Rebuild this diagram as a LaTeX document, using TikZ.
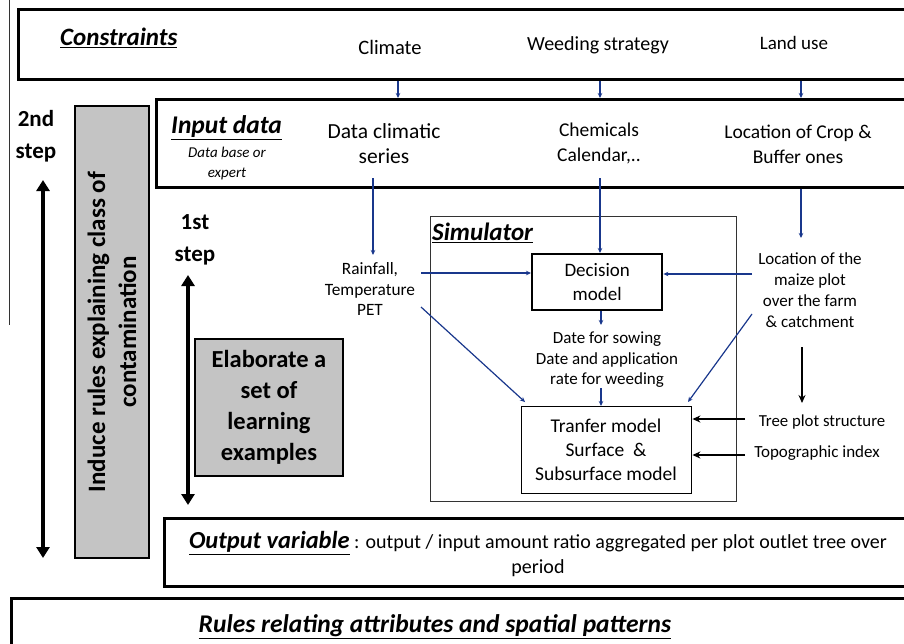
\documentclass[tikz,border=0pt]{standalone}
\usepackage{fontspec}
\setmainfont{Carlito}
\usetikzlibrary{arrows.meta}
\definecolor{navy}{RGB}{25,55,140}
\definecolor{boxgray}{RGB}{196,196,196}
\newcommand{\fs}[2]{\fontsize{#1}{#2}\selectfont}
\newcommand{\ttl}[1]{\underline{\textbf{\textit{#1}}}}
\begin{document}
\begin{tikzpicture}[x=1pt,y=-1pt,
  bigframe/.style={draw, line width=2.6pt, anchor=north west, inner sep=0pt},
  grayframe/.style={draw, fill=boxgray, line width=2pt, anchor=north west, inner sep=0pt},
  simframe/.style={draw=black!80, line width=1.1pt, anchor=north west, inner sep=0pt},
  modframe/.style={draw, anchor=north west, inner sep=0pt},
  lbl/.style={align=center, inner sep=0pt},
  barrow/.style={draw=navy, line width=1.2pt, -{Stealth[length=5pt,width=4.5pt]}},
  karrow/.style={draw, line width=1.6pt, -{Stealth[length=8pt,width=7pt]}},
  steparrow/.style={draw, line width=3.6pt, {Triangle[length=11pt,width=13pt]}-{Triangle[length=11pt,width=13pt]}},
  ]
\useasboundingbox (0,0) rectangle (904,643);
\clip (0,0) rectangle (904,643);

% thin left rule
\coordinate (lt) at (9,0);
\coordinate (lb) at (9,325);
\draw[line width=0.8pt, black!80] (lt) -- (lb);

% frames
\node[bigframe, minimum width=898pt, minimum height=70pt] (cons) at (17,8) {};
\node[bigframe, minimum width=760pt, minimum height=88pt] (inp) at (155,98) {};
\node[bigframe, minimum width=752pt, minimum height=68pt] (out) at (163,517) {};
\node[bigframe, minimum width=905pt, minimum height=70pt] (rules) at (10,597) {};
\node[grayframe, minimum width=74pt, minimum height=452pt] (induce) at (74,105) {};
\node[grayframe, minimum width=148pt, minimum height=137pt] (elab) at (194,338) {};
\node[simframe, minimum width=306pt, minimum height=285pt] (sim) at (430,216) {};
\node[modframe, line width=2.4pt, minimum width=130pt, minimum height=56pt] (dec) at (531,253) {};
\node[modframe, line width=1.4pt, minimum width=170pt, minimum height=87pt] (tra) at (521,406) {};

% constraints texts
\node[lbl, anchor=west, font=\fs{25}{29}] (constr) at (60,38) {\ttl{Constraints}};
\node[lbl, font=\fs{20.5}{24}] (climate) at (390,47) {Climate};
\node[lbl, font=\fs{20}{24}] (weed) at (598,45) {Weeding strategy};
\node[lbl, font=\fs{19}{23}] (landuse) at (794,43) {Land use};

% input texts
\node[lbl, anchor=west, font=\fs{25.5}{29}] (inptitle) at (171,128) {\ttl{Input data}};
\node[lbl, font=\fs{15}{20}\itshape] (dbase) at (227,163) {Data base or\\expert};
\node[lbl, font=\fs{21.5}{25}] (dcs) at (384,144) {Data climatic\\series};
\node[lbl, font=\fs{19.5}{25}] (chem) at (599,143) {Chemicals\\Calendar,..};
\node[lbl, font=\fs{19.5}{25}] (locc) at (798,144) {Location of Crop \&\\Buffer ones};

% steps
\node[lbl, font=\fs{23}{32}\bfseries] (step2) at (36,136) {2nd\\step};
\node[lbl, font=\fs{23}{32}\bfseries] (step1) at (195,240) {1st\\step};
\coordinate (s2t) at (43,180);
\coordinate (s2b) at (43,558);
\coordinate (s1t) at (188,275);
\coordinate (s1b) at (188,505);
\draw[steparrow] (s2t) -- (s2b);
\draw[steparrow] (s1t) -- (s1b);

\node[lbl, rotate=90, font=\fs{25}{31}\bfseries] (inducetxt) at (induce.center) {Induce rules explaining class of\\contamination};
\node[lbl, font=\fs{24.5}{31}\bfseries] (elabtxt) at (elab.center) {Elaborate a\\set of\\learning\\examples};

% simulator
\node[lbl, anchor=west, font=\fs{25}{28}] (simtitle) at (432,233) {\ttl{Simulator}};
\node[lbl, font=\fs{19}{24}] (dectxt) at (dec.center) {Decision\\model};
\node[lbl, font=\fs{19.5}{24}] (tratxt) at (606,450) {Tranfer model\\Surface~~\&\\Subsurface model};
\node[lbl, font=\fs{17.3}{20.5}] (rain) at (370,289) {Rainfall,\\Temperature\\PET};
\node[lbl, font=\fs{17}{21}] (loc) at (810,290) {Location of the\\maize plot\\over the farm\\\& catchment};
\node[lbl, font=\fs{17}{20.5}] (date) at (607,360) {Date for sowing\\Date and application\\rate for weeding};
\node[lbl, font=\fs{16.8}{20}] (tree) at (822,422) {Tree plot structure};
\node[lbl, font=\fs{17}{20}] (topo) at (817,453) {Topographic index};

% output / rules texts
\node[lbl, font=\fs{20}{25}] (outtxt) at (538,554) {\fs{24.5}{25}\ttl{Output variable}\fs{20}{25} : output / input amount ratio aggregated per plot outlet tree over\\period};
\node[lbl, font=\fs{25.5}{29}] (rulestxt) at (435,627) {\ttl{Rules relating attributes and spatial patterns}};

% blue connectors
\coordinate (xc) at (398,0);
\coordinate (xw) at (600,0);
\coordinate (xl) at (801,0);
\draw[barrow] (cons.south -| xc) -- (inp.north -| xc);
\draw[barrow] (cons.south -| xw) -- (inp.north -| xw);
\draw[barrow] (cons.south -| xl) -- (inp.north -| xl);

\coordinate (dcsout) at (373,178);
\coordinate (rainin) at (373,255);
\draw[barrow] (dcsout) -- (rainin);
\coordinate (chemout) at (600,178);
\draw[barrow] (chemout) -- (dec.north -| chemout);
\coordinate (locin) at (801,238);
\draw[barrow] (inp.south -| xl) -- (locin);

\coordinate (rainout) at (421,273);
\draw[barrow] (rainout) -- (rainout -| dec.west);
\coordinate (locout) at (752,274);
\draw[barrow] (locout) -- (locout -| dec.east);

\coordinate (datein) at (601,325);
\draw[barrow] (dec.south -| datein) -- (datein);
\coordinate (dateout) at (601,388);
\draw[barrow] (dateout) -- (tra.north -| dateout);

\coordinate (petout) at (421,307);
\coordinate (tranw) at (525,402);
\draw[barrow] (petout) -- (tranw);
\coordinate (locout2) at (752,314);
\coordinate (trane) at (688,402);
\draw[barrow] (locout2) -- (trane);

% black connectors
\coordinate (bk1) at (802,347);
\coordinate (bk2) at (802,403);
\draw[karrow] (bk1) -- (bk2);
\coordinate (treeout) at (745,419);
\draw[karrow] (treeout) -- (treeout -| tra.east);
\coordinate (topoout) at (745,455);
\draw[karrow] (topoout) -- (topoout -| tra.east);
\end{tikzpicture}
\end{document}
